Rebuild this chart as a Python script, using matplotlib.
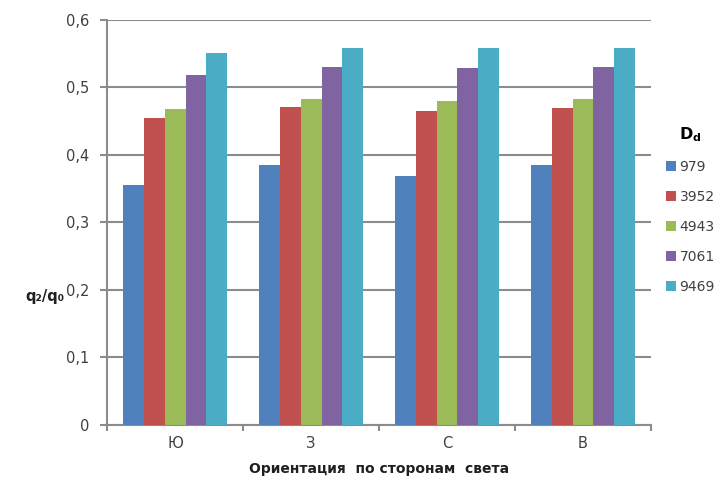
import numpy as np
import matplotlib.pyplot as plt

# Ориентация и значения q2/q0 для разных Dd
categories = ['Ю', 'З', 'С', 'В']
series_names = ['979', '3952', '4943', '7061', '9469']
values_979 = [0.355, 0.385, 0.369, 0.385]
values_3952 = [0.454, 0.471, 0.465, 0.470]
values_4943 = [0.468, 0.483, 0.480, 0.483]
values_7061 = [0.518, 0.530, 0.529, 0.530]
values_9469 = [0.551, 0.558, 0.558, 0.558]
y_ticks = [0, 0.1, 0.2, 0.3, 0.4, 0.5, 0.6]
y_tick_labels = ['0', '0,1', '0,2', '0,3', '0,4', '0,5', '0,6']

series = [values_979, values_3952, values_4943, values_7061, values_9469]
colors = ['#4F81BD', '#C0504D', '#9BBB59', '#8064A2', '#4BACC6']

plt.rcParams['font.family'] = ['DejaVu Sans']
fig = plt.figure(figsize=(7.2, 4.84), dpi=100)
ax = fig.add_axes([0.149, 0.122, 0.755, 0.837])

x = np.arange(len(categories))
w = 0.153
for i, (vals, c, name) in enumerate(zip(series, colors, series_names)):
    ax.bar(x + (i - 2) * w, vals, width=w, color=c, label=name, zorder=3)

grid_c = '#8c8c8c'
ax.set_axisbelow(True)
ax.set_xlim(-0.5, 3.5)
ax.set_ylim(0, 0.6)
ax.set_yticks(y_ticks)
ax.set_yticklabels(y_tick_labels, fontsize=10.5, color='#404040')
ax.set_xticks(x)
ax.set_xticklabels(categories, fontsize=10.5, color='#404040')
ax.set_xticks(np.arange(-0.5, 4.0, 1.0), minor=True)
ax.tick_params(axis='x', which='major', length=0, pad=8)
ax.tick_params(axis='x', which='minor', length=4, color=grid_c, width=1.5)
ax.tick_params(axis='y', length=5, color=grid_c, width=1.5, pad=8)
ax.yaxis.grid(True, color=grid_c, linewidth=1.5)
for s in ['right', 'top']:
    ax.spines[s].set_visible(False)
for s in ['left', 'bottom']:
    ax.spines[s].set_color(grid_c)
    ax.spines[s].set_linewidth(1.5)

ax.set_xlabel('Ориентация  по сторонам  света', fontsize=10, fontweight='bold',
              color='#202020', labelpad=8)
fig.text(0.062, 0.388, 'q₂/q₀', fontsize=10.5, fontweight='bold', color='#202020',
         ha='center', va='center')

leg = ax.legend(loc='upper left', bbox_to_anchor=(1.008, 0.768), frameon=False,
                title='D$_\\mathregular{d}$', fontsize=10, handlelength=0.7,
                handleheight=0.7, handletextpad=0.25, labelspacing=1.15,
                borderpad=0.3)
leg.get_title().set_fontweight('bold')
leg.get_title().set_fontsize(11.5)
for t in leg.get_texts():
    t.set_color('#404040')

plt.savefig('out.png', dpi=100)
